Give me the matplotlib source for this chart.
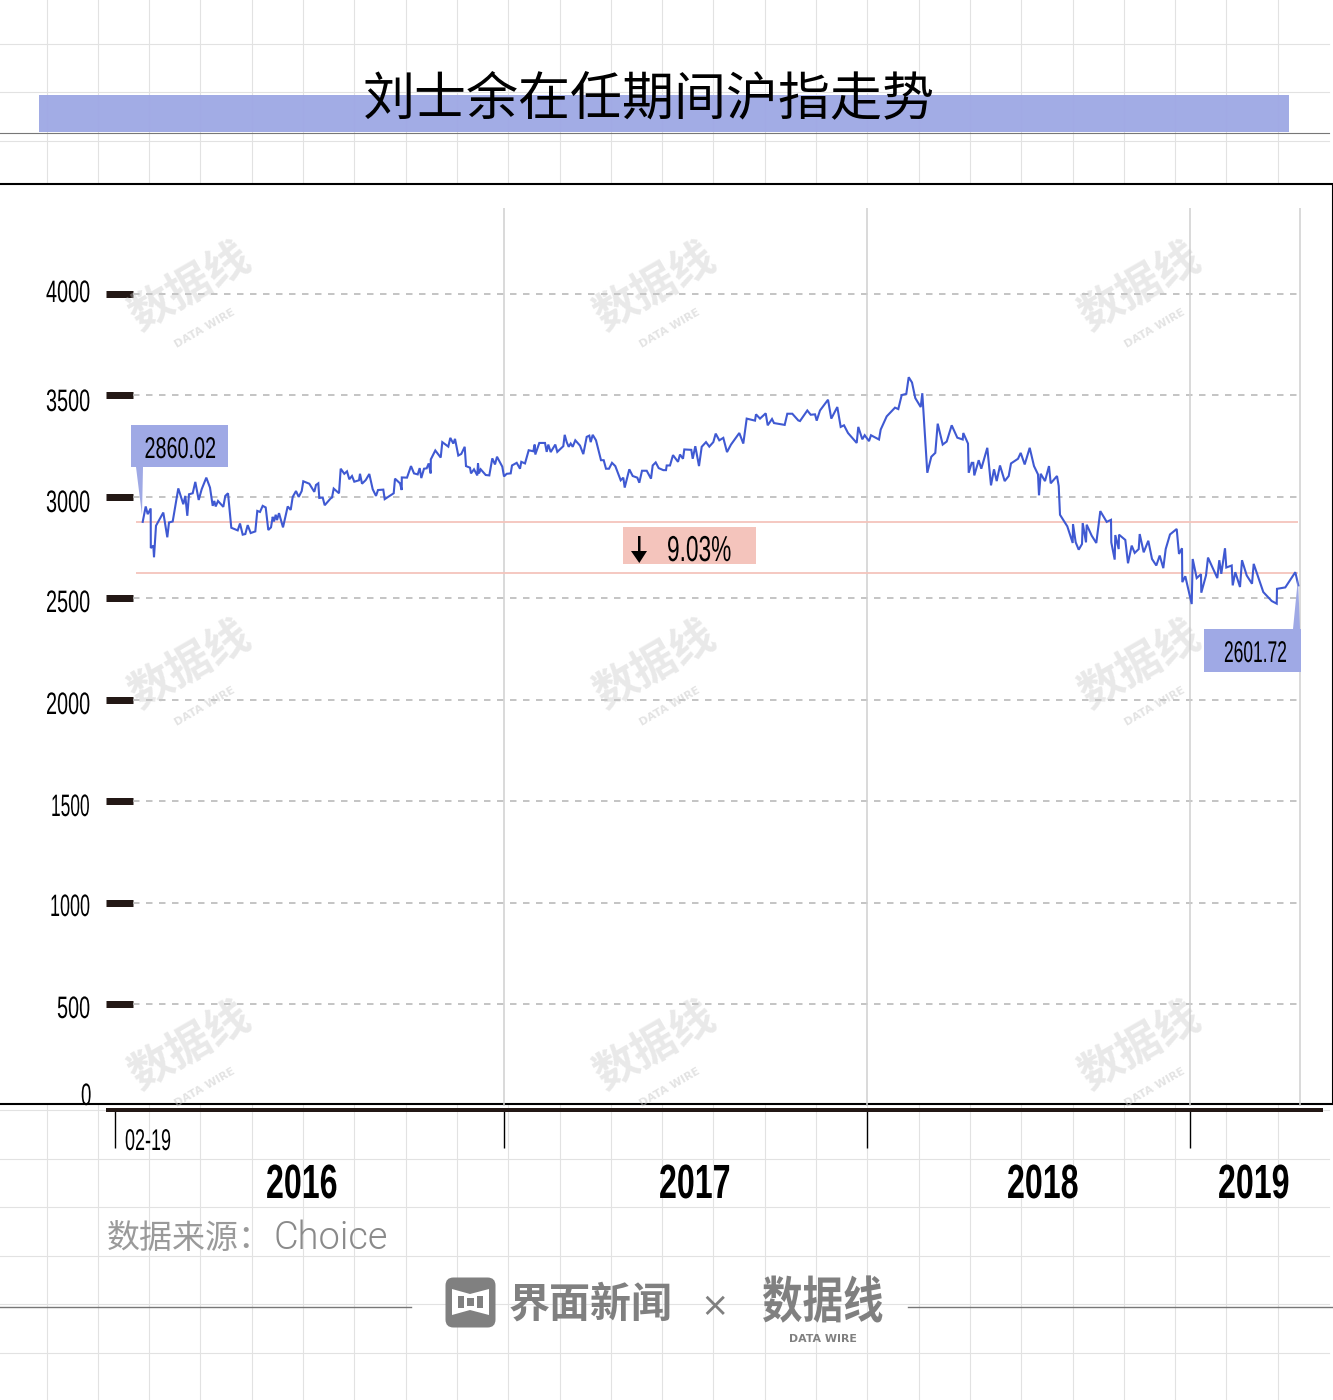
import matplotlib
matplotlib.use('Agg')
import matplotlib.pyplot as plt
from matplotlib.patches import Rectangle, Polygon, FancyBboxPatch
from matplotlib.patheffects import AbstractPathEffect
from matplotlib.transforms import Affine2D

plt.rcParams['font.family'] = ['Noto Sans CJK SC', 'DejaVu Sans']

# position along the time axis (0 = first session)
pos = [1.7, 4.7, 6.7, 9.7, 9.8, 12.3, 13, 15, 22.3, 26.3, 28, 31.7, 37.3, 42.3, 44.3, 46.3, 48, 51.7, 54.3, 57.7,
       60.7, 65.3, 69, 71.7, 73.3, 74.7, 77, 82.3, 84.3, 87, 90.3, 96.7, 99, 101.7, 104.3, 106.7, 109.7, 114.3, 116.3, 119,
       121.7, 124.7, 127.3, 130, 131.7, 133, 134.7, 136, 138, 142, 146.7, 149.7, 151.7, 155, 157.7, 160.7, 162.3, 168.3, 173.3, 175,
       177.3, 178.3, 181.7, 183.7, 189.7, 191, 192.7, 198, 199.7, 203.3, 206, 208.3, 211, 213.3, 218, 219, 221, 224.7, 228.3, 231.7,
       235, 237, 242.3, 243.7, 252.7, 254, 259, 260.7, 260.8, 266, 270, 273, 276.7, 278.7, 280.3, 283, 285.7, 287.7, 289.7, 289.8,
       294.3, 299.7, 301.3, 307.3, 309.3, 312.3, 314, 317.3, 320.3, 323.7, 325, 329, 330, 333, 336.3, 337, 338, 339.7, 344.7, 348.3,
       351.3, 354, 356, 361.3, 363, 365.7, 369.7, 371, 375.7, 379, 380.3, 384, 387.7, 392.3, 393.7, 394.3, 398.3, 404, 405.7, 407.3,
       409.7, 414.3, 416.3, 422.3, 423.7, 425.7, 427.7, 429.7, 431.7, 434.3, 439, 442.3, 445.7, 448.3, 449.7, 451.7, 455, 460, 462.7, 465,
       468, 471, 474.3, 479.7, 482.3, 483.7, 488.3, 491.7, 496.3, 498.3, 501, 505.7, 510, 511.7, 514.7, 517.7, 522.3, 525, 525.7, 529,
       532, 537, 539, 542, 543.3, 550.3, 551.7, 554.3, 558, 560.7, 565, 568.3, 572.3, 574.7, 578.3, 582.3, 586, 590, 598.3, 602.3,
       605.7, 614, 615, 619, 624.7, 626.7, 631, 633, 643.7, 646.3, 651.3, 657.3, 659, 666.3, 669.7, 674, 675.7, 679, 687, 690.3,
       696.3, 699.7, 703, 707, 715.7, 717.3, 721.3, 723.7, 728, 730, 738, 739.7, 745.7, 754, 757.3, 760.7, 765.3, 767.7, 771, 774.3,
       779.7, 781.3, 786.3, 790.3, 794.3, 796.7, 801.7, 805.7, 810.7, 816.3, 821.7, 822.3, 827, 827.7, 830.7, 832.3, 833.3, 837.7, 840.3, 846.3,
       850, 853, 855.7, 859, 863.7, 867.7, 870, 877, 879.7, 883.7, 888.7, 893, 897, 898, 899.7, 904, 908, 909.7, 916, 917.7,
       919, 926.3, 931.7, 932, 934.7, 937.7, 941, 941.7, 945, 945.7, 950.7, 955.3, 959.3, 965.7, 970, 970.3, 973.7, 974.3, 977.7, 978,
       984.3, 987, 990.7, 993.7, 997.7, 998.7, 1002.7, 1007.3, 1011, 1015.3, 1018.7, 1022.3, 1024.7, 1029, 1035.7, 1038, 1041, 1041.3, 1044.3, 1050.7,
       1051.7, 1055.7, 1060, 1060.3, 1065, 1067, 1076.3, 1078.3, 1080.3, 1084, 1085.3, 1090.7, 1091.7, 1094.3, 1099, 1101, 1105.7, 1111, 1112.7, 1122.3,
       1130.7, 1135.7, 1136, 1144.3, 1154.3, 1157.3]
# Shanghai Composite close at each position
close = [2877, 2953, 2915, 2943, 2748, 2760, 2703, 2858, 2923, 2801, 2874, 2879, 3042, 2964, 3005, 2907, 3013, 3018, 3074, 2985,
         3038, 3095, 3046, 2956, 2980, 2953, 2980, 2951, 3005, 3018, 2848, 2835, 2869, 2814, 2817, 2861, 2822, 2830, 2931, 2926,
         2956, 2948, 2837, 2850, 2902, 2879, 2912, 2886, 2920, 2850, 2953, 2936, 3000, 3029, 3000, 3029, 3077, 3065, 3025, 3059,
         3067, 2995, 2997, 2959, 2993, 2997, 3041, 3018, 3139, 3114, 3126, 3087, 3103, 3075, 3082, 3114, 3065, 3083, 3113, 3038,
         3005, 3034, 3036, 2989, 3018, 3090, 3067, 3034, 3096, 3095, 3152, 3116, 3111, 3142, 3093, 3139, 3141, 3165, 3116, 3185,
         3229, 3194, 3270, 3248, 3291, 3263, 3286, 3204, 3212, 3247, 3152, 3144, 3116, 3136, 3106, 3165, 3116, 3136, 3108, 3106,
         3190, 3160, 3198, 3149, 3101, 3114, 3116, 3155, 3168, 3139, 3173, 3165, 3230, 3225, 3258, 3209, 3266, 3266, 3222, 3258,
         3221, 3258, 3222, 3250, 3306, 3270, 3247, 3263, 3247, 3279, 3253, 3211, 3296, 3302, 3270, 3306, 3279, 3181, 3181, 3139,
         3139, 3168, 3152, 3082, 3095, 3046, 3136, 3103, 3095, 3070, 3129, 3129, 3090, 3155, 3170, 3142, 3132, 3132, 3155, 3155,
         3206, 3173, 3209, 3188, 3234, 3232, 3188, 3250, 3152, 3247, 3270, 3248, 3270, 3312, 3279, 3291, 3221, 3258, 3315, 3263,
         3386, 3376, 3407, 3386, 3412, 3353, 3384, 3364, 3355, 3410, 3410, 3377, 3374, 3426, 3405, 3407, 3376, 3426, 3479, 3386,
         3443, 3345, 3353, 3315, 3266, 3345, 3284, 3304, 3275, 3304, 3283, 3332, 3397, 3440, 3433, 3502, 3508, 3590, 3564, 3487,
         3443, 3511, 3119, 3198, 3217, 3361, 3258, 3273, 3353, 3292, 3283, 3315, 3263, 3119, 3168, 3168, 3106, 3181, 3139, 3242,
         3057, 3136, 3078, 3155, 3078, 3103, 3165, 3188, 3217, 3160, 3242, 3152, 3111, 3008, 3114, 3078, 3152, 3067, 3103, 3054,
         2912, 2855, 2773, 2866, 2776, 2740, 2768, 2871, 2776, 2863, 2809, 2773, 2930, 2877, 2887, 2776, 2691, 2812, 2743, 2814,
         2788, 2673, 2760, 2724, 2743, 2817, 2727, 2784, 2694, 2662, 2711, 2649, 2743, 2815, 2842, 2719, 2747, 2580, 2609, 2472,
         2694, 2600, 2619, 2528, 2613, 2701, 2600, 2688, 2621, 2747, 2652, 2662, 2564, 2629, 2556, 2688, 2613, 2572, 2670, 2531,
         2487, 2474, 2547, 2554, 2629, 2564]

y_ticks = [500, 1000, 1500, 2000, 2500, 3000, 3500, 4000]
year_edges = [-26.5, 363, 725.5, 1048.5]
end_pos = 1159
years = ['2016', '2017', '2018', '2019']
start_level = 2874
end_level = 2624

INK = '#231815'
BLUE = '#9fa9e5'
PINK = '#f4c4bc'
LOGO_GREY = '#808080'


def pt(px):
    return px * 0.72


# narrows a text horizontally from its left edge, the chart's number face is very condensed
class Squeeze(AbstractPathEffect):
    def __init__(self, sx):
        self.sx = sx

    def draw_path(self, renderer, gc, tpath, affine, rgbFace=None):
        renderer.draw_path(gc, tpath, Affine2D().scale(self.sx, 1) + affine, rgbFace)


fig = plt.figure(figsize=(13.33, 14), dpi=100, facecolor='white')

# background sheet, pixel coordinates
bg = fig.add_axes([0, 0, 1, 1], zorder=0)
bg.set_xlim(0, 1333)
bg.set_ylim(1400, 0)
bg.axis('off')
for k in range(25):
    bg.plot([46.5 + 51.3 * k] * 2, [0, 1400], color='#e2e2e2', lw=0.8)
for k in range(29):
    bg.plot([0, 1329], [44 + 48.47 * k] * 2, color='#e2e2e2', lw=0.8)
bg.add_patch(Rectangle((38.5, 95), 1250.5, 37, fc=BLUE, ec='none', alpha=0.97, zorder=3))
bg.plot([0, 1329], [132.5, 132.5], color='#777777', lw=0.8, zorder=4)
bg.add_patch(Rectangle((0, 184), 1332, 920, fc='white', ec='none', zorder=5))
bg.plot([0, 1332.5, 1332.5, 0], [184, 184, 1104, 1104], color='black', lw=1.5, zorder=6)
bg.plot([0, 411], [1306.5, 1306.5], color='#777777', lw=1, zorder=6)
bg.plot([908, 1333], [1306.5, 1306.5], color='#777777', lw=1, zorder=6)

# the chart
ax = fig.add_axes([106 / 1333, (1400 - 1110) / 1400, (1323 - 106) / 1333, (1110 - 208) / 1400], zorder=1)
ax.patch.set_visible(False)
ax.set_xlim(-35, 1182)
ax.set_ylim(-21.7, 4424)
for side in ['top', 'right', 'left']:
    ax.spines[side].set_visible(False)
ax.spines['bottom'].set_linewidth(pt(4))
ax.spines['bottom'].set_color(INK)
ax.spines['bottom'].set_capstyle('butt')
ax.set_yticks(y_ticks)
ax.set_yticklabels([])
ax.tick_params(axis='y', direction='in', length=pt(27), width=pt(7), color=INK)
ax.set_xticks(year_edges)
ax.set_xticklabels([])
ax.tick_params(axis='x', direction='out', length=pt(38), width=1, color='black')

ax.hlines(y_ticks, -8, end_pos, color='#bababa', lw=1.2, linestyles=(0, (3.9, 3.9)))
ax.vlines(year_edges[1:] + [end_pos], 0, 4424, color='#cfcfcf', lw=1.1)
ax.hlines([start_level, end_level], -5, 1157, color=PINK, lw=1.3)
ax.plot(pos, close, color='#3f59d2', lw=1.5, solid_joinstyle='miter')

# overlay, pixel coordinates
top = fig.add_axes([0, 0, 1, 1], zorder=2)
top.set_xlim(0, 1333)
top.set_ylim(1400, 0)
top.axis('off')


def num(x, base, s, px, sx, weight='normal', color='black'):
    top.text(x, base, s, family='Liberation Sans', fontsize=pt(px), weight=weight, color=color,
             ha='left', va='baseline', path_effects=[Squeeze(sx)])


# watermarks
for cx in [190, 655, 1140]:
    for cy in [291, 669, 1050]:
        top.text(cx, cy - 4, '数据线', fontsize=pt(44), weight='bold', color='#c8c8c8', alpha=0.4,
                 rotation=30, rotation_mode='anchor', ha='center', va='center')
        top.text(cx + 15, cy + 37, 'DATA WIRE', family='DejaVu Sans', fontsize=pt(11), weight='bold', color='#c8c8c8',
                 alpha=0.5, rotation=30, rotation_mode='anchor', ha='center', va='center')

top.text(648.5, 99, '刘士余在任期间沪指走势', fontsize=pt(52), color='black', ha='center', va='center')

# y labels
for s, x, base, sx in zip(['4000', '3500', '3000', '2500', '2000', '1500', '1000', '500', '0'],
                          [46, 46, 46, 46, 46, 51, 50, 57, 81],
                          [302, 411, 512, 612, 714, 816, 916, 1018, 1105],
                          [0.64, 0.64, 0.64, 0.64, 0.64, 0.56, 0.58, 0.64, 0.6]):
    num(x, base, s, 31, sx)

num(125, 1150, '02-19', 30, 0.6)
for s, x in zip(years, [266, 659, 1007, 1218]):
    num(x, 1198, s, 48, 0.67, weight='bold')

# callouts
top.add_patch(Rectangle((131, 425), 97, 42, fc=BLUE, ec='none'))
top.add_patch(Polygon([(136, 467), (143, 467), (142, 515)], fc=BLUE, ec='none'))
num(144.5, 458, '2860.02', 30, 0.66)
top.add_patch(Rectangle((1204, 629), 97, 43, fc=BLUE, ec='none'))
top.add_patch(Polygon([(1293, 629), (1300, 629), (1298, 578)], fc=BLUE, ec='none'))
num(1224, 662, '2601.72', 30, 0.58)
top.add_patch(Rectangle((623, 527), 133, 37, fc=PINK, ec='none'))
top.add_patch(Polygon([(638, 536), (640.5, 536), (640.5, 551), (647, 551), (639.3, 563), (631, 551), (638, 551)],
                      fc='black', ec='none'))
num(667, 561, '9.03%', 36, 0.63)

# footer
top.text(107, 1248, '数据来源：', fontsize=pt(33), color='#9a9a9a', ha='left', va='baseline')
top.text(274, 1249, 'Choice', family='Roboto', fontsize=pt(38), weight=300, color='#8a8a8a', ha='left', va='baseline')

top.add_patch(FancyBboxPatch((450, 1282), 41, 41, boxstyle='round,pad=4.5,rounding_size=8', fc=LOGO_GREY, ec='none'))
top.add_patch(Polygon([(452, 1289), (470, 1294), (489, 1289), (489, 1315), (470, 1310), (452, 1315)], fc='white', ec='none'))
top.add_patch(Rectangle((458, 1296), 25, 12, fc=LOGO_GREY, ec='none'))
top.add_patch(Rectangle((464, 1296), 13, 12, fc='white', ec='none'))
top.add_patch(Rectangle((467, 1298), 7, 8, fc=LOGO_GREY, ec='none'))
top.text(509, 1305, '界面新闻', fontsize=pt(41), weight='bold', color=LOGO_GREY, ha='left', va='center')
top.text(715, 1307, '×', family='DejaVu Sans', fontsize=pt(34), color=LOGO_GREY, ha='center', va='center')
top.text(762, 1318, '数据线', fontsize=pt(50), weight='bold', color=LOGO_GREY, ha='left', va='baseline',
         path_effects=[Squeeze(0.81)])
top.text(823, 1339.5, 'DATA WIRE', family='DejaVu Sans', fontsize=pt(11), weight='bold', color=LOGO_GREY,
         ha='center', va='center')

fig.savefig('out.png', dpi=100)
